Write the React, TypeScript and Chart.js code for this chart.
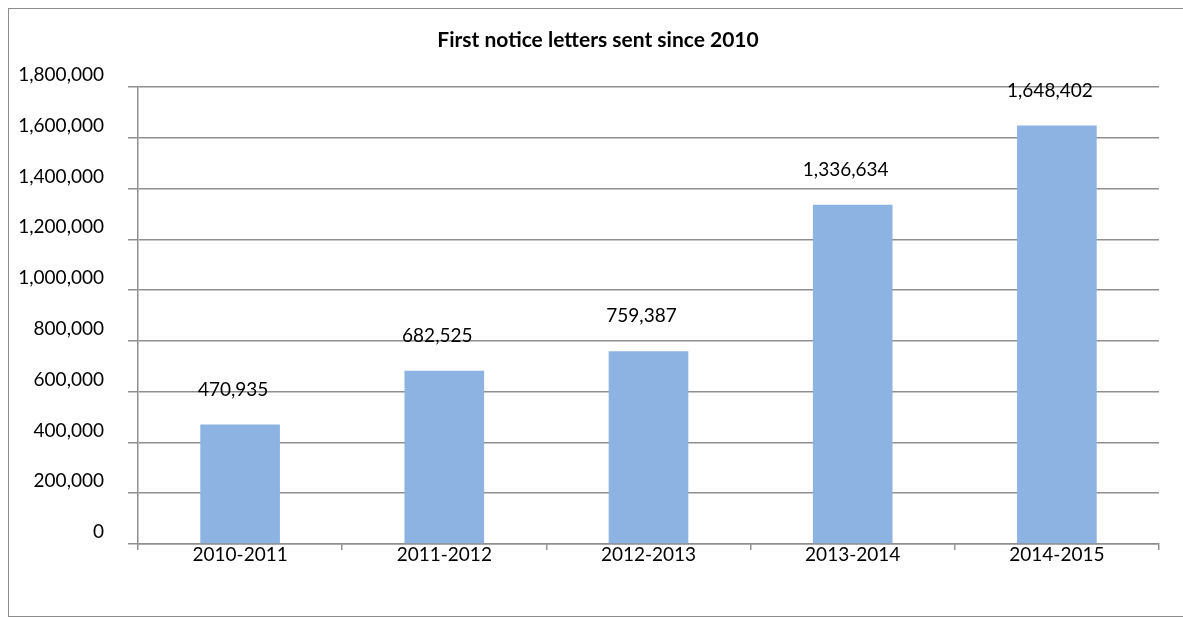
import React, { useEffect, useRef } from "react";
import { Chart, registerables } from "chart.js";

Chart.register(...registerables);

const categories: string[] = ["2010-2011", "2011-2012", "2012-2013", "2013-2014", "2014-2015"];
const lettersSent: number[] = [470935, 682525, 759387, 1336634, 1648402];
const titleText = "First notice letters sent since 2010";
const yMax = 1800000;
const yStep = 200000;

const FONT = "Lato, 'Open Sans', sans-serif";
const fmt = (v: number) => Number(v).toLocaleString("en-US");

const valueLabels = {
  id: "valueLabels",
  afterDatasetsDraw(chart: any) {
    const ctx = chart.ctx;
    const meta = chart.getDatasetMeta(0);
    const data = chart.data.datasets[0].data as number[];
    ctx.save();
    ctx.font = `19px ${FONT}`;
    ctx.fillStyle = "#000";
    ctx.textAlign = "center";
    ctx.textBaseline = "middle";
    meta.data.forEach((el: any, i: number) => {
      ctx.fillText(fmt(data[i]), el.x - 7, el.y - 35);
    });
    ctx.restore();
  },
};

const chartTitle = {
  id: "chartTitle",
  afterDraw(chart: any) {
    const ctx = chart.ctx;
    ctx.save();
    ctx.font = `bold 21px ${FONT}`;
    ctx.fillStyle = "#000";
    ctx.textAlign = "center";
    ctx.textBaseline = "middle";
    ctx.fillText(titleText, (chart.width + 4) / 2, 31);
    ctx.restore();
  },
};

export default function App() {
  const ref = useRef<HTMLCanvasElement | null>(null);
  useEffect(() => {
    if (!ref.current) return;
    const chart = new Chart(ref.current, {
      type: "bar",
      data: {
        labels: categories,
        datasets: [
          {
            label: "Letters",
            data: lettersSent,
            backgroundColor: "#8DB3E2",
            borderWidth: 0,
            barPercentage: 0.39,
            categoryPercentage: 1.0,
          },
        ],
      },
      options: {
        animation: false,
        responsive: true,
        maintainAspectRatio: false,
        layout: { padding: { left: 0, right: 24, top: 78, bottom: 0 } },
        plugins: {
          legend: { display: false },
          tooltip: { enabled: false },
          title: { display: false },
        },
        scales: {
          x: {
            offset: true,
            grid: {
              display: true,
              drawOnChartArea: false,
              drawTicks: true,
              tickLength: 6,
              color: "#8f8f8f",
              lineWidth: 1.5,
              offset: true,
            },
            border: { display: true, color: "#8f8f8f", width: 1.5 },
            ticks: {
              color: "#000",
              font: { family: FONT, size: 19 },
              padding: -7,
              maxRotation: 0,
            },
            afterFit: (scale: any) => {
              scale.height = 72;
            },
          },
          y: {
            min: 0,
            max: yMax,
            grid: {
              color: "#8f8f8f",
              lineWidth: 1.5,
              drawTicks: true,
              tickLength: 10,
            },
            border: { display: true, color: "#8f8f8f", width: 1.5 },
            ticks: {
              stepSize: yStep,
              color: "#000",
              font: { family: FONT, size: 19 },
              padding: 24,
              labelOffset: -12,
              callback: (v: any) => fmt(v),
            },
            afterFit: (scale: any) => {
              scale.width = 129;
            },
          },
        },
      },
      plugins: [valueLabels, chartTitle],
    });
    return () => chart.destroy();
  }, []);

  return (
    <div
      style={{
        position: "absolute",
        left: 8,
        top: 8,
        width: 1175,
        height: 609,
        boxSizing: "border-box",
        borderTop: "1px solid #8c8c8c",
        borderLeft: "1px solid #8c8c8c",
        borderBottom: "1px solid #8c8c8c",
        background: "#fff",
      }}
    >
      <div style={{ position: "relative", width: "100%", height: "100%" }}>
        <canvas ref={ref} />
      </div>
    </div>
  );
}
